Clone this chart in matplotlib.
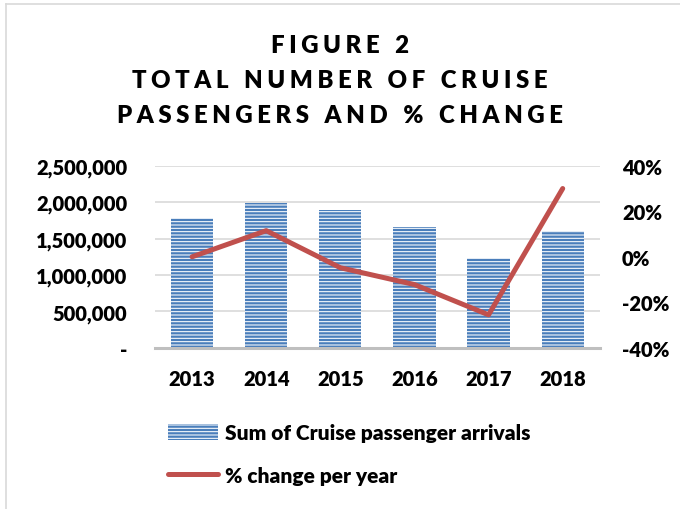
import matplotlib
matplotlib.use("Agg")
from matplotlib import pyplot as plt
from matplotlib.ticker import FuncFormatter
from matplotlib.patches import Patch
from matplotlib.lines import Line2D

plt.rcParams['font.family'] = ['Lato', 'DejaVu Sans']
plt.rcParams['font.weight'] = 'heavy'
plt.rcParams['hatch.linewidth'] = 0.75

# data
years = ['2013', '2014', '2015', '2016', '2017', '2018']
arrivals = [1780000, 1985000, 1890000, 1660000, 1236000, 1607000]
pct_change = [0.0, 0.115, -0.048, -0.122, -0.255, 0.30]

title_lines = ['FIGURE 2', 'TOTAL NUMBER OF CRUISE', 'PASSENGERS AND % CHANGE']

bar_blue = '#4a7ebb'
line_red = '#c0504d'
grid_grey = '#d9d9d9'

fig = plt.figure(figsize=(6.8, 5.1), dpi=100)
ax = fig.add_axes([0.228, 0.316, 0.654, 0.357])

x = range(len(years))
ax.bar(x, arrivals, width=0.57, color=bar_blue, edgecolor='white',
       linewidth=0, hatch='-----', zorder=2)
ax.set_ylim(0, 2500000)
ax.set_xlim(-0.5, len(years) - 0.5)
ax.set_yticks(range(0, 2500001, 500000))
ax.yaxis.set_major_formatter(FuncFormatter(lambda v, p: '-' if v == 0 else f'{int(v):,}'))
ax.grid(axis='y', color=grid_grey, linewidth=1.2, zorder=0)
ax.set_axisbelow(True)
ax.set_xticks(list(x))
ax.set_xticklabels(years)
ax.tick_params(axis='y', length=0, pad=20, labelsize=14.5)
ax.tick_params(axis='x', length=0, pad=15, labelsize=14.5)
for s in ['top', 'right', 'left']:
    ax.spines[s].set_visible(False)
ax.spines['bottom'].set_color('#bfbfbf')
ax.spines['bottom'].set_linewidth(2.2)

ax2 = ax.twinx()
ax2.plot(list(x), pct_change, color=line_red, linewidth=3.6,
         solid_capstyle='round', solid_joinstyle='round', zorder=3)
ax2.set_ylim(-0.4, 0.4)
ax2.set_yticks([-0.4, -0.2, 0, 0.2, 0.4])
ax2.yaxis.set_major_formatter(FuncFormatter(lambda v, p: f'{v * 100:.0f}%'))
ax2.tick_params(axis='y', length=0, pad=16, labelsize=14.5)
for s in ['top', 'right', 'left', 'bottom']:
    ax2.spines[s].set_visible(False)

# title, letter spaced with thin spaces
sp = '\u2009\u200a'
for i, t in enumerate(title_lines):
    spaced = (sp + '  ').join(sp.join(w) for w in t.split(' '))
    fig.text(0.5, 1 - (46 + 35 * i) / 510, spaced, ha='center', va='center',
             fontsize=17.3, fontweight='heavy')

# legend
handles = [Patch(facecolor=bar_blue, edgecolor='white', linewidth=0, hatch='-----'),
           Line2D([], [], color=line_red, linewidth=3.6, solid_capstyle='round')]
labels = ['Sum of Cruise passenger arrivals', '% change per year']
fig.legend(handles, labels, loc='upper left', bbox_to_anchor=(0.22, 0.205),
           frameon=False, fontsize=15, handlelength=2.4, handleheight=0.85,
           labelspacing=1.15, handletextpad=0.3)

# chart border
fig.add_artist(plt.Line2D([0.009, 0.009], [0.0, 0.99], color='#d9d9d9', linewidth=1.2,
                          transform=fig.transFigure))
fig.add_artist(plt.Line2D([0.009, 1.0], [0.99, 0.99], color='#d9d9d9', linewidth=1.2,
                          transform=fig.transFigure))

fig.savefig('out.png', dpi=100)
